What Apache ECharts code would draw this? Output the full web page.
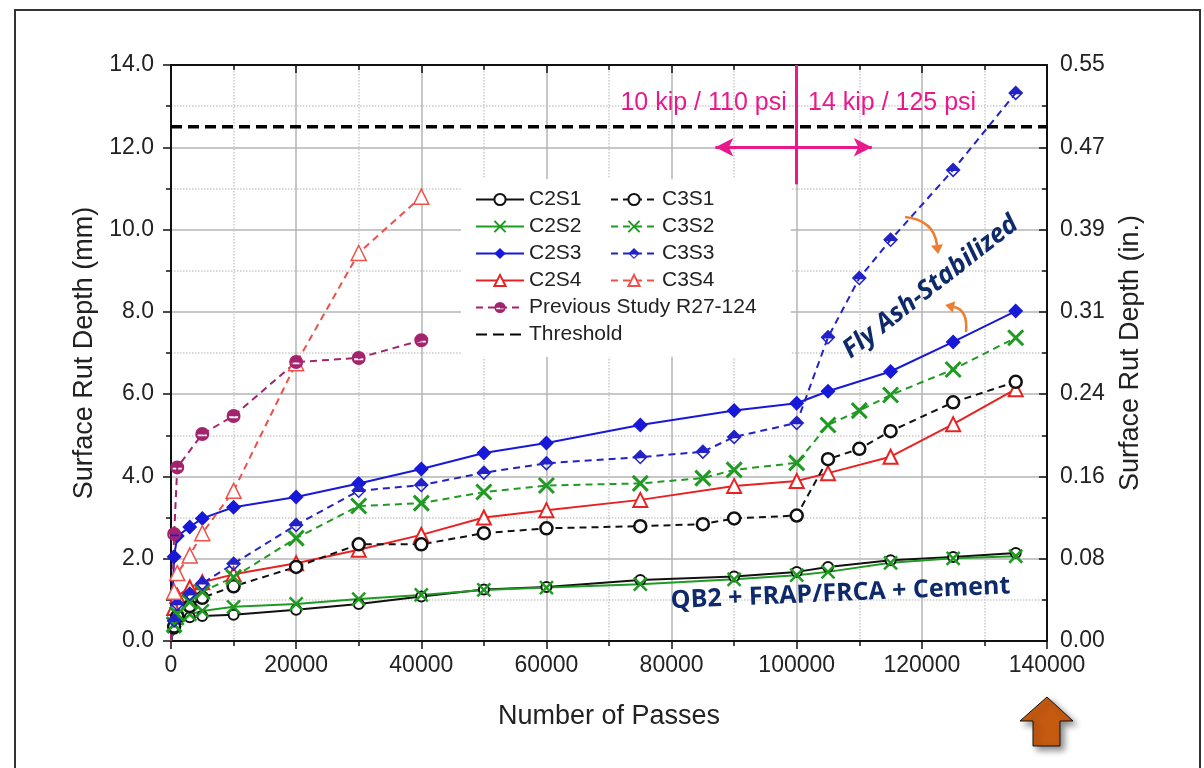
<!DOCTYPE html>
<html>
<head>
<meta charset="utf-8">
<script src="https://cdn.jsdelivr.net/npm/echarts@6/dist/echarts.min.js"></script>
<style>
html, body { margin: 0; padding: 0; background: #fff; }
#main { width: 1204px; height: 768px; }
</style>
</head>
<body>
<div id="main"></div>
<script>
// passes at which each group was measured
var passesC2 = [0, 500, 1000, 3000, 5000, 10000, 20000, 30000, 40000, 50000, 60000, 75000, 90000, 100000, 105000, 115000, 125000, 135000];
var passesC3 = [0, 500, 1000, 3000, 5000, 10000, 20000, 30000, 40000, 50000, 60000, 75000, 85000, 90000, 100000, 105000, 110000, 115000, 125000, 135000];
var passesC3S4 = [0, 500, 1000, 3000, 5000, 10000, 20000, 30000, 40000];
var passesPrev = [0, 500, 1000, 5000, 10000, 20000, 30000, 40000];

// surface rut depth, mm
var c2s1 = [0, 0.3, 0.5, 0.58, 0.61, 0.64, 0.76, 0.9, 1.08, 1.25, 1.31, 1.48, 1.57, 1.68, 1.8, 1.96, 2.04, 2.14];
var c2s2 = [0, 0.35, 0.55, 0.65, 0.73, 0.83, 0.9, 1.02, 1.12, 1.24, 1.3, 1.38, 1.5, 1.6, 1.68, 1.9, 2.01, 2.06];
var c2s3 = [0, 2.05, 2.55, 2.77, 2.98, 3.25, 3.5, 3.83, 4.18, 4.57, 4.81, 5.25, 5.6, 5.78, 6.07, 6.55, 7.27, 8.02];
var c2s4 = [0, 0.8, 1.1, 1.3, 1.43, 1.62, 1.89, 2.22, 2.58, 3.0, 3.18, 3.43, 3.77, 3.89, 4.08, 4.48, 5.27, 6.12];
var c3s1 = [0, 0.35, 0.6, 0.85, 1.05, 1.33, 1.8, 2.35, 2.35, 2.62, 2.74, 2.79, 2.84, 2.98, 3.05, 4.42, 4.67, 5.1, 5.8, 6.3];
var c3s2 = [0, 0.4, 0.65, 0.95, 1.2, 1.55, 2.5, 3.28, 3.35, 3.62, 3.78, 3.83, 3.96, 4.16, 4.33, 5.25, 5.6, 5.98, 6.6, 7.37];
var c3s3 = [0, 0.5, 0.9, 1.15, 1.4, 1.88, 2.82, 3.65, 3.79, 4.09, 4.32, 4.47, 4.6, 4.96, 5.3, 7.38, 8.82, 9.75, 11.45, 13.32];
var c3s4 = [0, 1.2, 1.65, 2.08, 2.62, 3.65, 6.75, 9.43, 10.8];
var prevStudy = [0, 2.6, 4.22, 5.03, 5.47, 6.78, 6.88, 7.31];

var thresholdMm = 12.5;
var xRange = [0, 140000];
var loadChangePasses = 100000;

var FONT = "'Liberation Sans', Arial, sans-serif";
var PINK = '#e8198b';
var NAVY = '#0e2a6b';
var ORANGE = '#ee7d31';

var SYM_X = 'path://M0,0 L20,20 M20,0 L0,20';
var SYM_HALF_DIAMOND = 'path://M10,0 L20,10 L0,10 Z M0,10 L20,10 L10,20 Z M4.5,11.6 L10,17.1 L15.5,11.6 Z';
var SYM_HALF_CIRCLE = 'path://M0,10 A10,10 0 0 1 20,10 A10,10 0 0 1 0,10 Z M3.5,10.6 L3.5,13.2 L16.5,13.2 L16.5,10.6 Z';

// origin point carries no marker
function pairs(xs, ys) {
	return xs.map(function (x, i) {
		if (x === 0) return { value: [x, ys[i]], symbol: 'none' };
		return [x, ys[i]];
	});
}

function line(name, xs, ys, color, dashed, symbol, size, fill, border) {
	return {
		name: name,
		type: 'line',
		data: pairs(xs, ys),
		symbol: symbol,
		symbolSize: size,
		lineStyle: { color: color, width: 2, type: dashed ? [7, 5] : 'solid' },
		itemStyle: { color: fill, borderColor: color, borderWidth: border },
		z: 3
	};
}

var myChart = echarts.init(document.getElementById('main'));

var axisLineStyle = { color: '#111', width: 2 };
var legendText = { fontSize: 21, color: '#222', fontFamily: FONT };

option = {
	backgroundColor: '#fff',
	animation: false,
	textStyle: { fontFamily: FONT },
	grid: { left: 171, right: 157, top: 65, bottom: 127 },
	legend: [{
		data: ['C2S1', 'C2S2', 'C2S3', 'C2S4', 'Previous Study R27-124',
			{ name: 'Threshold', itemStyle: { color: 'rgba(0,0,0,0)', borderWidth: 0 } }],
		orient: 'vertical',
		left: 461,
		top: 179,
		padding: [10, 34, 12, 14],
		backgroundColor: '#fff',
		itemWidth: 48,
		itemHeight: 14,
		itemGap: 6,
		textStyle: legendText,
		z: 4
	}, {
		data: ['C3S1', 'C3S2', 'C3S3', 'C3S4'],
		orient: 'vertical',
		left: 610,
		top: 189,
		padding: 0,
		itemWidth: 46,
		itemHeight: 14,
		itemGap: 6,
		textStyle: legendText,
		z: 5
	}],
	xAxis: [{
		type: 'value',
		min: xRange[0],
		max: xRange[1],
		interval: 20000,
		position: 'bottom',
		name: 'Number of Passes',
		nameLocation: 'middle',
		nameGap: 62,
		nameTextStyle: { fontSize: 27, color: '#222' },
		axisLine: { onZero: false, lineStyle: axisLineStyle },
		axisTick: { length: 8, lineStyle: { color: '#111', width: 1.5 } },
		minorTick: { show: true, splitNumber: 2, length: 5, lineStyle: { color: '#111', width: 1.5 } },
		axisLabel: { fontSize: 23, color: '#222', margin: 13, formatter: function (v) { return String(v); } },
		splitLine: { show: true, lineStyle: { color: '#b5b5b5', width: 1.5 } },
		minorSplitLine: { show: true, lineStyle: { color: '#cccccc', width: 1.5, type: 'dotted' } }
	}, {
		type: 'value',
		min: xRange[0],
		max: xRange[1],
		interval: 20000,
		position: 'top',
		axisLine: { onZero: false, lineStyle: axisLineStyle },
		axisTick: { inside: true, length: 8, lineStyle: { color: '#111', width: 1.5 } },
		minorTick: { show: true, splitNumber: 2, length: 5, lineStyle: { color: '#111', width: 1.5 } },
		axisLabel: { show: false },
		splitLine: { show: false }
	}],
	yAxis: [{
		type: 'value',
		min: 0,
		max: 14,
		interval: 2,
		position: 'left',
		name: 'Surface Rut Depth (mm)',
		nameLocation: 'middle',
		nameRotate: 90,
		nameGap: 64,
		nameTextStyle: { fontSize: 27, color: '#222' },
		axisLine: { onZero: false, lineStyle: axisLineStyle },
		axisTick: { length: 8, lineStyle: { color: '#111', width: 1.5 } },
		minorTick: { show: true, splitNumber: 2, length: 5, lineStyle: { color: '#111', width: 1.5 } },
		axisLabel: { fontSize: 23, color: '#222', margin: 17, formatter: function (v) { return v.toFixed(1); } },
		splitLine: { show: true, lineStyle: { color: '#b5b5b5', width: 1.5 } },
		minorSplitLine: { show: true, lineStyle: { color: '#cccccc', width: 1.5, type: 'dotted' } }
	}, {
		type: 'value',
		min: 0,
		max: 14,
		interval: 2,
		position: 'right',
		name: 'Surface Rut Depth (in.)',
		nameLocation: 'middle',
		nameRotate: 90,
		nameGap: 70,
		nameTextStyle: { fontSize: 27, color: '#222' },
		axisLine: { onZero: false, lineStyle: axisLineStyle },
		axisTick: { inside: true, length: 8, lineStyle: { color: '#111', width: 1.5 } },
		minorTick: { show: true, splitNumber: 2, length: 5, lineStyle: { color: '#111', width: 1.5 } },
		axisLabel: { fontSize: 23, color: '#222', margin: 13, formatter: function (v) { return (v / 25.4).toFixed(2); } },
		splitLine: { show: false }
	}],
	series: [
		{
			name: 'Threshold',
			type: 'line',
			data: pairs(xRange, [thresholdMm, thresholdMm]),
			symbol: 'none',
			lineStyle: { color: '#000', width: 3.5, type: [11, 6] },
			itemStyle: { color: '#000' },
			z: 2,
			markLine: {
				silent: true,
				symbol: ['none', 'arrow'],
				symbolSize: [14, 18],
				label: { show: false },
				lineStyle: { color: PINK, width: 3, type: 'solid' },
				data: [
					[{ coord: [loadChangePasses, 14], symbol: 'none' }, { coord: [loadChangePasses, 11.1], symbol: 'none' }],
					[{ coord: [loadChangePasses, 12] }, { coord: [87000, 12] }],
					[{ coord: [loadChangePasses, 12] }, { coord: [112000, 12] }]
				]
			}
		},
		line('C2S1', passesC2, c2s1, '#111111', false, 'circle', 10, '#fff', 2),
		line('C2S2', passesC2, c2s2, '#1f9a22', false, SYM_X, 13, 'rgba(0,0,0,0)', 2.5),
		line('C2S3', passesC2, c2s3, '#1818d8', false, 'diamond', 15, '#1818d8', 0),
		line('C2S4', passesC2, c2s4, '#e82222', false, 'triangle', 14, '#fff', 2),
		line('C3S1', passesC3, c3s1, '#111111', true, 'circle', 12, '#fff', 2.5),
		line('C3S2', passesC3, c3s2, '#1f9a22', true, SYM_X, 15, 'rgba(0,0,0,0)', 3),
		line('C3S3', passesC3, c3s3, '#2222c8', true, SYM_HALF_DIAMOND, 15, '#2222c8', 0),
		line('C3S4', passesC3S4, c3s4, '#f0504a', true, 'triangle', 15, '#fff', 1.5),
		line('Previous Study R27-124', passesPrev, prevStudy, '#a3236e', true, SYM_HALF_CIRCLE, 14, '#a3236e', 0)
	]
};
myChart.setOption(option);

// annotations placed through the chart's own coordinate system
function px(x, y) {
	return myChart.convertToPixel({ seriesIndex: 0 }, [x, y]);
}

function curvedArrow(p0, c, p1) {
	var dx = p1[0] - c[0], dy = p1[1] - c[1];
	var len = Math.sqrt(dx * dx + dy * dy);
	var ux = dx / len, uy = dy / len;
	var tip = [p1[0] + ux * 9, p1[1] + uy * 9];
	var left = [p1[0] - uy * 6, p1[1] + ux * 6];
	var right = [p1[0] + uy * 6, p1[1] - ux * 6];
	return [{
		type: 'bezierCurve',
		shape: { x1: p0[0], y1: p0[1], cpx1: c[0], cpy1: c[1], x2: p1[0], y2: p1[1] },
		style: { stroke: ORANGE, lineWidth: 2.5, fill: null },
		z: 10
	}, {
		type: 'polygon',
		shape: { points: [tip, left, right] },
		style: { fill: ORANGE },
		z: 10
	}];
}

var pLeftLabel = px(98400, 13.08);
var pRightLabel = px(101800, 13.08);
var pFly = px(121400, 8.6);
var pQb = px(107000, 1.15);

var graphics = [
	{
		type: 'rect',
		shape: { x: 15, y: 10, width: 1185, height: 800 },
		style: { fill: 'none', stroke: '#333', lineWidth: 2 },
		z: 0
	},
	{
		type: 'text',
		x: pLeftLabel[0], y: pLeftLabel[1],
		style: { text: '10 kip / 110 psi', fill: PINK, font: '25px ' + FONT, align: 'right', verticalAlign: 'middle' },
		z: 10
	},
	{
		type: 'text',
		x: pRightLabel[0], y: pRightLabel[1],
		style: { text: '14 kip / 125 psi', fill: PINK, font: '25px ' + FONT, align: 'left', verticalAlign: 'middle' },
		z: 10
	},
	{
		type: 'text',
		x: pFly[0], y: pFly[1],
		rotation: 38 * Math.PI / 180,
		style: { text: 'Fly Ash-Stabilized', fill: NAVY, font: 'italic bold 26px "Open Sans", sans-serif', align: 'center', verticalAlign: 'middle' },
		z: 10
	},
	{
		type: 'text',
		x: pQb[0], y: pQb[1],
		rotation: 2.5 * Math.PI / 180,
		style: { text: 'QB2 + FRAP/FRCA + Cement', fill: NAVY, font: 'bold 25px "Open Sans", sans-serif', align: 'center', verticalAlign: 'middle' },
		z: 10
	},
	{
		type: 'polygon',
		shape: { points: [[1047, 697], [1073, 721], [1060, 721], [1060, 746], [1033, 746], [1033, 721], [1020, 721]] },
		style: { fill: '#c55a11', stroke: '#111', lineWidth: 1, shadowBlur: 6, shadowOffsetX: 4, shadowOffsetY: 4, shadowColor: 'rgba(0,0,0,0.45)' },
		z: 10
	}
];
graphics = graphics.concat(curvedArrow([905, 217], [934, 220], [937, 245]));
graphics = graphics.concat(curvedArrow([966, 332], [968, 310], [954, 307]));

myChart.setOption({ graphic: graphics });
</script>
</body>
</html>
